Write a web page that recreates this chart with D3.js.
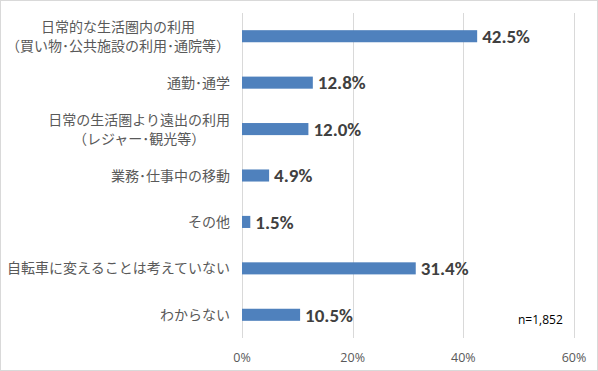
<!DOCTYPE html>
<html>
<head>
<meta charset="utf-8">
<script src="https://cdn.jsdelivr.net/npm/d3@7"></script>
<style>
  body { margin: 0; background: #fff; }
  svg { display: block; }
</style>
</head>
<body>
<script>
// chart data
var categories = [
  ["日常的な生活圏内の利用", "（買い物･公共施設の利用･通院等）"],
  ["通勤･通学"],
  ["日常の生活圏より遠出の利用", "（レジャー･観光等）"],
  ["業務･仕事中の移動"],
  ["その他"],
  ["自転車に変えることは考えていない"],
  ["わからない"]
];
var values = [42.5, 12.8, 12.0, 4.9, 1.5, 31.4, 10.5];
var tickValues = [0, 20, 40, 60];
var sampleNote = "n=1,852";

var width = 598, height = 371;
var jpFont = "'Noto Sans CJK JP', 'Noto Sans', sans-serif";
var uiFont = "'Open Sans', 'Noto Sans', sans-serif";

var svg = d3.select("body").append("svg")
  .attr("width", width).attr("height", height);

// outer border
svg.append("rect")
  .attr("x", 0.5).attr("y", 0.5)
  .attr("width", width - 1).attr("height", height - 1)
  .attr("fill", "#fff").attr("stroke", "#d9d9d9");

var x = d3.scaleLinear().domain([0, 60]).range([242, 574]);
var y = d3.scaleBand().domain(d3.range(categories.length)).range([13, 338]).paddingInner(0.74).paddingOuter(0.37);

// gridlines
svg.selectAll(".grid")
  .data(tickValues)
  .enter().append("line")
  .attr("x1", function(d){ return Math.round(x(d)) + 0.5; })
  .attr("x2", function(d){ return Math.round(x(d)) + 0.5; })
  .attr("y1", 13).attr("y2", 338)
  .attr("stroke", "#d9d9d9");

// tick labels
svg.selectAll(".tick")
  .data(tickValues)
  .enter().append("text")
  .attr("x", function(d){ return x(d); })
  .attr("y", 362)
  .attr("text-anchor", "middle")
  .style("font-family", uiFont)
  .style("font-size", "12.5px")
  .style("fill", "#595959")
  .text(function(d){ return d + "%"; });

// bars
svg.selectAll(".bar")
  .data(values)
  .enter().append("rect")
  .attr("x", x(0))
  .attr("y", function(d, i){ return y(i); })
  .attr("width", function(d){ return x(d) - x(0); })
  .attr("height", y.bandwidth())
  .attr("fill", "#4f81bd");

// value labels
svg.selectAll(".val")
  .data(values)
  .enter().append("text")
  .attr("x", function(d){ return x(d) + 5; })
  .attr("y", function(d, i){ return y(i) + y.bandwidth() / 2; })
  .attr("dy", "0.36em")
  .style("font-family", "Carlito, Calibri, 'Liberation Sans', sans-serif")
  .style("font-size", "19px")
  .style("font-weight", "bold")
  .style("fill", "#404040")
  .text(function(d){ return d.toFixed(1) + "%"; });

// category labels (multi-line labels centred within their block, block right-aligned)
var labelRight = 230;
var cat = svg.selectAll(".cat")
  .data(categories)
  .enter().append("text")
  .attr("text-anchor", "middle")
  .style("font-family", jpFont)
  .style("font-size", "14px")
  .style("fill", "#595959");

cat.each(function(lines, i){
  var cy = y(i) + y.bandwidth() / 2;
  var lh = 19;
  var start = cy - (lines.length - 1) * lh / 2;
  var spans = d3.select(this).selectAll("tspan")
    .data(lines)
    .enter().append("tspan")
    .attr("y", function(d, j){ return start + j * lh; })
    .attr("dy", "0.36em")
    .text(function(d){ return d; });
  var maxW = d3.max(spans.nodes(), function(n){ return n.getComputedTextLength(); });
  spans.attr("x", labelRight - maxW / 2);
});

// sample size note
svg.append("text")
  .attr("x", 518).attr("y", 324)
  .style("font-family", uiFont)
  .style("font-size", "12px")
  .style("fill", "#000")
  .text(sampleNote);
</script>
</body>
</html>
